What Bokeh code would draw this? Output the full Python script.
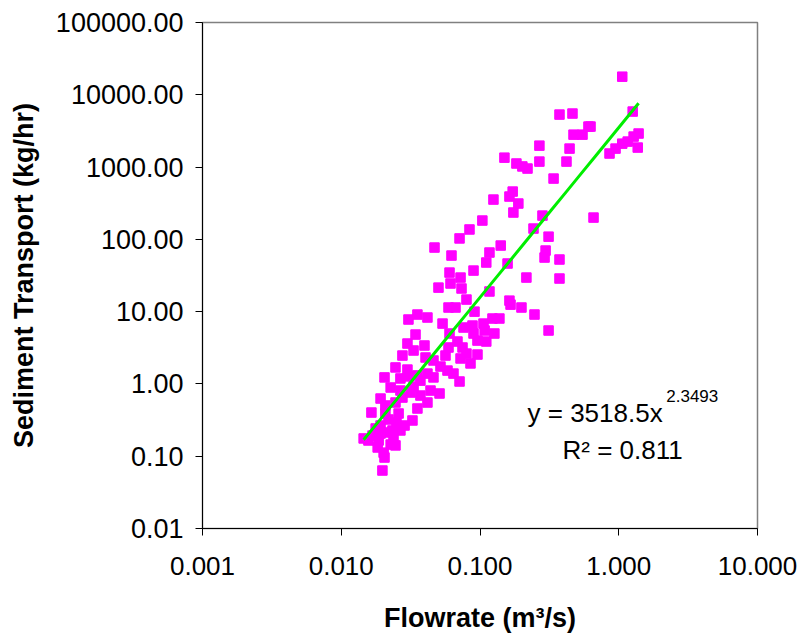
import numpy as np
from bokeh.plotting import figure
from bokeh.models import Range1d, FixedTicker, CustomJSTickFormatter, Label, ColumnDataSource
from bokeh.embed import file_html
from bokeh.resources import INLINE

# ---- data ----
flow_m3s = [
    1.06, 1.26, 1.39, 1.37, 1.28, 1.16, 1.06, 0.948, 0.858, 0.658,
    0.626, 0.374, 0.464, 0.605, 0.472, 0.548, 0.268, 0.442, 0.150, 0.268,
    0.420, 0.183, 0.202, 0.220, 0.339, 0.172, 0.163, 0.189, 0.125, 0.174,
    0.282, 0.104, 0.243, 0.0840, 0.0712, 0.312, 0.0470, 0.141, 0.0623, 0.117,
    0.297, 0.292, 0.374, 0.111, 0.158, 0.0603, 0.0898, 0.0724, 0.216, 0.374,
    0.0502, 0.0613, 0.0736, 0.117, 0.0799, 0.163, 0.166, 0.199, 0.0593, 0.0666,
    0.0913, 0.247, 0.0537, 0.123, 0.138, 0.106, 0.0883, 0.0761, 0.312, 0.0305,
    0.0354, 0.0418, 0.0343, 0.0300, 0.0332, 0.0398, 0.0276, 0.0603, 0.0688, 0.0593,
    0.0748, 0.0799, 0.0959, 0.0898, 0.0959, 0.127, 0.108, 0.111, 0.0724, 0.0854,
    0.0405, 0.0462, 0.0519, 0.0583, 0.0644, 0.0712, 0.0246, 0.0300, 0.0354, 0.0462,
    0.0418, 0.0205, 0.0267, 0.0305, 0.0332, 0.0440, 0.0511, 0.0227, 0.0192, 0.0208,
    0.0165, 0.0246, 0.0276, 0.0354, 0.0418, 0.0316, 0.0259, 0.0219, 0.0286, 0.0250,
    0.0177, 0.0168, 0.0145, 0.0183, 0.0227, 0.0205, 0.0198, 0.0215, 0.0192, 0.0234,
    0.0208, 0.0186, 0.0202, 0.0246, 0.0372, 0.0267, 0.0157, 0.0192, 0.0238, 0.0267,
    0.0326, 0.0372, 0.0564,
]
sediment_kghr = [
    17800, 5860, 2910, 1860, 2640, 2250, 2110, 1800, 1540, 200,
    3630, 5320, 5500, 3630, 2810, 2810, 1980, 1800, 1350, 1190,
    1190, 1120, 1020, 954, 693, 458, 391, 313, 355, 235,
    213, 182, 141, 137, 103, 109, 77.0, 82.1, 59.7, 65.7,
    70.0, 56.0, 52.6, 47.8, 46.3, 34.7, 37.0, 29.6, 29.6, 28.7,
    21.5, 24.5, 20.9, 19.0, 14.7, 14.2, 12.5, 11.4, 11.4, 11.4,
    10.0, 9.12, 6.84, 8.03, 8.03, 6.84, 6.42, 6.03, 5.48, 7.78,
    9.12, 8.29, 4.82, 3.62, 2.90, 3.40, 2.47, 4.98, 3.86, 3.19,
    3.19, 2.63, 2.55, 4.98, 3.98, 4.98, 5.48, 3.86, 2.25, 1.92,
    2.32, 2.11, 1.74, 1.53, 1.39, 1.08, 1.69, 1.58, 1.31, 1.23,
    1.39, 1.23, 1.19, 1.27, 0.920, 0.810, 0.737, 0.892, 0.628, 0.503,
    0.402, 0.553, 0.648, 0.457, 0.553, 0.760, 0.390, 0.322, 0.266, 0.292,
    0.242, 0.193, 0.176, 0.132, 0.145, 0.0959, 0.0634, 0.213, 0.266, 0.227,
    0.390, 0.165, 0.112, 0.141, 1.11, 0.810, 0.165, 0.206, 0.187, 0.227,
    0.312, 0.691, 2.47,
]
# power-law trendline y = a * x^b
trend_a = 3518.5
trend_b = 2.3493
trend_r2 = 0.811

x_ticks = [0.001, 0.01, 0.1, 1, 10]
y_ticks = [0.01, 0.1, 1, 10, 100, 1000, 10000, 100000]

FONT = "Liberation Sans"

p = figure(width=804, height=636, x_axis_type="log", y_axis_type="log",
           x_range=Range1d(0.001, 10), y_range=Range1d(0.01, 100000),
           output_backend="svg", toolbar_location=None,
           min_border_left=202, min_border_right=47,
           min_border_top=22, min_border_bottom=108)
p.background_fill_color = "white"
p.border_fill_color = "white"
p.outline_line_color = "#808080"
p.outline_line_width = 1.5
p.xgrid.visible = False
p.ygrid.visible = False

for ax, ticks, fmt, fs in ((p.xaxis[0], x_ticks, "return tick.toFixed(3);", "26px"),
                           (p.yaxis[0], y_ticks, "return tick.toFixed(2);", "27px")):
    ax.ticker = FixedTicker(ticks=ticks, minor_ticks=[])
    ax.formatter = CustomJSTickFormatter(code=fmt)
    ax.axis_line_color = "black"
    ax.axis_line_width = 1
    ax.major_tick_line_color = "black"
    ax.major_tick_in = 0
    ax.major_tick_out = 7
    ax.minor_tick_in = 0
    ax.minor_tick_out = 0
    ax.major_label_text_font = FONT
    ax.major_label_text_font_size = fs
    ax.major_label_text_color = "black"
    ax.axis_label_text_font = FONT
    ax.axis_label_text_font_size = "27px"
    ax.axis_label_text_font_style = "bold"
    ax.axis_label_text_color = "black"

p.xaxis.axis_label = "Flowrate (m³/s)"
p.yaxis.axis_label = "Sediment Transport (kg/hr)"
p.xaxis.major_label_standoff = 21
p.yaxis.major_label_standoff = 12
p.xaxis.axis_label_standoff = 25
p.yaxis.axis_label_standoff = 14

src = ColumnDataSource(dict(x=flow_m3s, y=sediment_kghr))
p.scatter("x", "y", source=src, marker="square", size=9.5,
          fill_color="#FF00FF", line_color="#FF00FF")

xs = np.logspace(np.log10(min(flow_m3s)), np.log10(max(flow_m3s)), 20)
ys = trend_a * xs ** trend_b
p.line(xs, ys, line_color="#00EE00", line_width=3)

eq_main = Label(x=0.220, y=0.390, text=f"y = {trend_a}x", text_font=FONT,
                text_font_size="26px", text_color="black", text_baseline="alphabetic")
eq_sup = Label(x=2.20, y=0.69, text=f"{trend_b}", text_font=FONT,
               text_font_size="17px", text_color="black", text_baseline="alphabetic")
eq_r2 = Label(x=0.393, y=0.120, text=f"R² = {trend_r2}", text_font=FONT,
              text_font_size="26px", text_color="black", text_baseline="alphabetic")
for lab in (eq_main, eq_sup, eq_r2):
    p.add_layout(lab)

open("out.html", "w").write(file_html(p, INLINE))
